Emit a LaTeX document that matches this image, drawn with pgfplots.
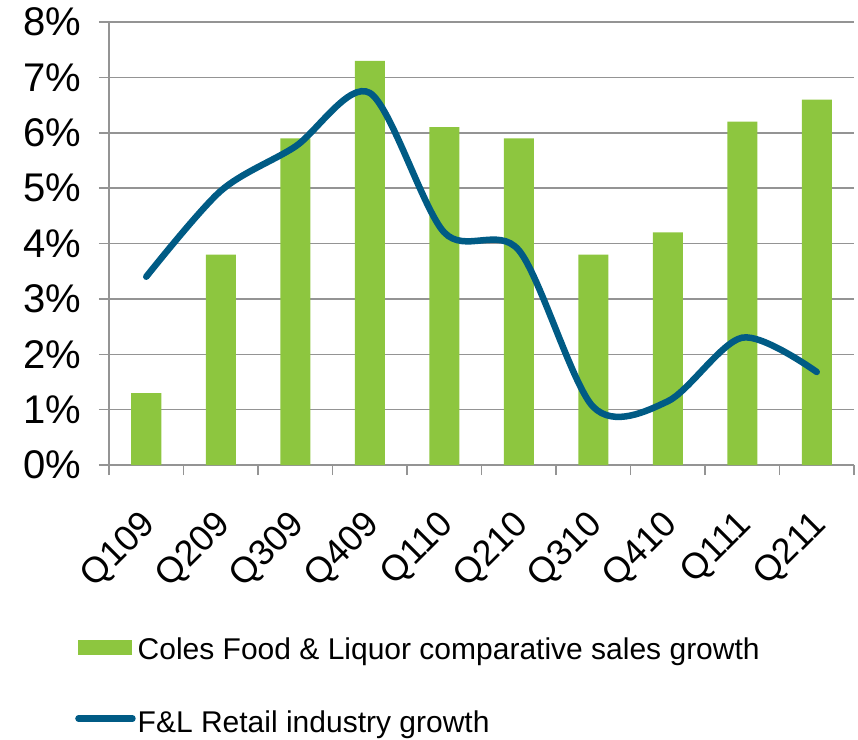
\documentclass[border=0pt]{standalone}
\usepackage{pgfplots}
\pgfplotsset{compat=1.18}
\usepackage{fontspec}
\setmainfont{Liberation Sans}
\definecolor{barGreen}{HTML}{8DC63F}
\definecolor{lineBlue}{HTML}{005B85}
\definecolor{gridGray}{HTML}{949494}
\begin{document}
\begin{tikzpicture}
\useasboundingbox (-109pt,-274pt) rectangle (749pt,465pt);
\begin{axis}[
  at={(0pt,0pt)}, anchor=south west,
  scale only axis,
  width=745pt, height=443pt,
  xmin=-0.5, xmax=9.5,
  ymin=0, ymax=8,
  axis x line*=bottom, axis y line*=left,
  axis line style={gridGray, line width=1.5pt, -},
  ymajorgrids,
  grid style={gridGray, line width=1.5pt},
  ytick={0,...,8},
  yticklabels={0\%,1\%,2\%,3\%,4\%,5\%,6\%,7\%,8\%},
  xtick={0,...,9},
  xticklabels={Q109,Q209,Q309,Q409,Q110,Q210,Q310,Q410,Q111,Q211},
  minor xtick={-0.5,0.5,...,9.5},
  tick align=outside,
  major tick length=10pt,
  minor tick length=10pt,
  major x tick style={draw=none},
  minor x tick style={gridGray, line width=1.5pt},
  major y tick style={gridGray, line width=1.5pt},
  yticklabel style={font=\fontsize{40}{40}\selectfont, xshift=-14pt},
  xticklabel style={font=\fontsize{36}{36}\selectfont, xshift=-7pt, yshift=-30pt, rotate=45, anchor=north east, inner sep=2pt},
  /pgf/number format/assume math mode=true,
  legend style={
    at={(-0.0456,-0.385)}, anchor=north west,
    draw=none, fill=none, inner sep=0pt,
    font=\fontsize{30}{30}\selectfont,
    row sep=46pt,
    cells={anchor=west},
  },
  legend cell align=left,
]
\addplot[ybar, bar width=30pt, fill=barGreen, draw=none, bar shift=0pt,
  legend image code/.code={\fill[barGreen] (0pt,-6pt) rectangle (54pt,9pt);}]
  coordinates {(0,1.3) (1,3.8) (2,5.9) (3,7.3) (4,6.1) (5,5.9) (6,3.8) (7,4.2) (8,6.2) (9,6.6)};
\addlegendentry{Coles Food \& Liquor comparative sales growth}
\addplot[lineBlue, line width=6.5pt, smooth, tension=0.5, line cap=round, mark=none,
  legend image code/.code={\draw[lineBlue, line width=6.5pt, line cap=round] (0pt,4pt) -- (54pt,4pt);}]
  coordinates {(0,3.4) (1,4.95) (2,5.75) (3,6.72) (4,4.2) (5,3.88) (6,1.05) (7,1.15) (8,2.3) (9,1.68)};
\addlegendentry{F\&L Retail industry growth}
\end{axis}
\end{tikzpicture}
\end{document}
